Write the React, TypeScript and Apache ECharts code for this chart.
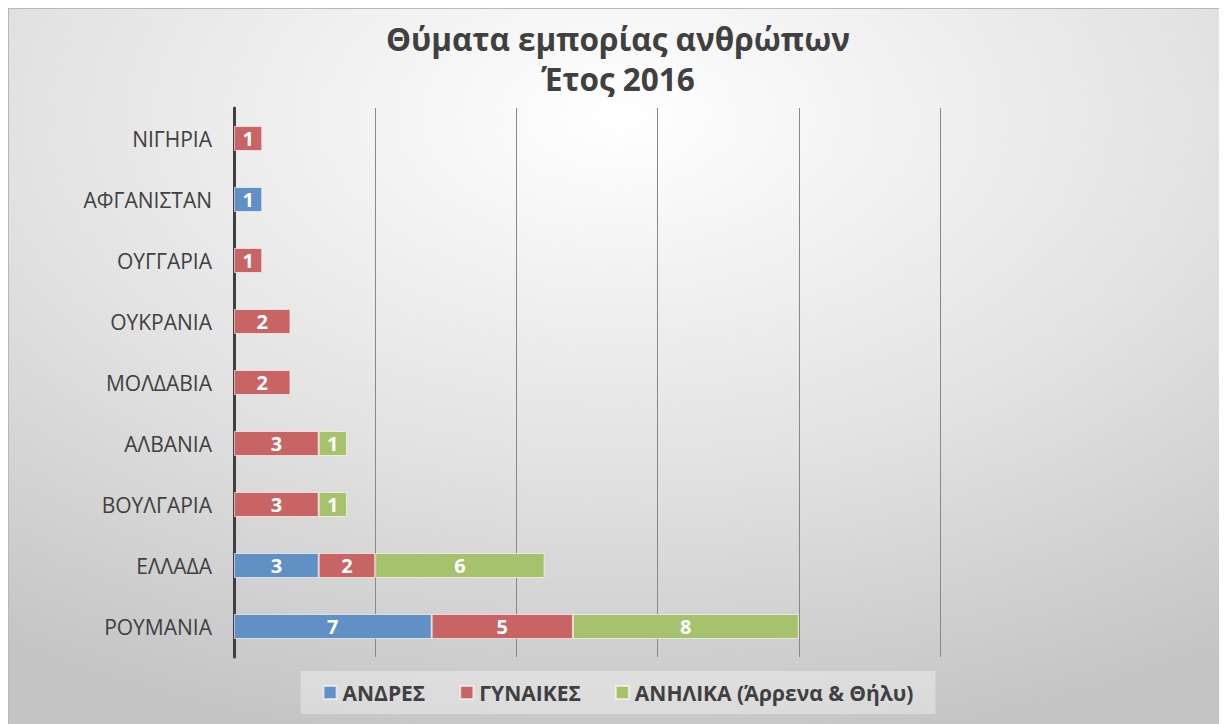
import React, { useEffect, useRef } from "react";
import * as echarts from "echarts";

const categories = ["ΡΟΥΜΑΝΙΑ", "ΕΛΛΑΔΑ", "ΒΟΥΛΓΑΡΙΑ", "ΑΛΒΑΝΙΑ", "ΜΟΛΔΑΒΙΑ", "ΟΥΚΡΑΝΙΑ", "ΟΥΓΓΑΡΙΑ", "ΑΦΓΑΝΙΣΤΑΝ", "ΝΙΓΗΡΙΑ"];
const men = [7, 3, null, null, null, null, null, 1, null];
const women = [5, 2, 3, 3, 2, 2, 1, null, 1];
const minors = [8, 6, 1, 1, null, null, null, null, null];
const seriesNames = ["ΑΝΔΡΕΣ", "ΓΥΝΑΙΚΕΣ", "ΑΝΗΛΙΚΑ (Άρρενα & Θήλυ)"];
const colors = ["#6190c5", "#c96464", "#a6c26c"];
const titleText = "Θύματα εμπορίας ανθρώπων\nΈτος 2016";

const FONT = "'Open Sans', 'Noto Sans', sans-serif";

export default function App() {
  const ref = useRef<HTMLDivElement>(null);
  useEffect(() => {
    if (!ref.current) return;
    const chart = echarts.init(ref.current, undefined, { renderer: "svg" });
    const data = [men, women, minors];
    chart.setOption({
      animation: false,
      backgroundColor: {
        type: "radial",
        x: 0.5,
        y: 0.15,
        r: 0.9,
        colorStops: [
          { offset: 0, color: "#ffffff" },
          { offset: 0.55, color: "#e2e2e2" },
          { offset: 1, color: "#c4c4c4" },
        ],
      },
      title: {
        text: titleText,
        left: "center",
        top: 4,
        textStyle: {
          fontFamily: FONT,
          fontSize: 31.5,
          fontWeight: "bold",
          color: "#404040",
          lineHeight: 40,
        },
      },
      legend: {
        bottom: 10,
        left: "center",
        itemWidth: 13,
        itemHeight: 13,
        itemGap: 34,
        padding: [11, 22, 11, 22],
        backgroundColor: "rgba(255,255,255,0.35)",
        icon: "rect",
        textStyle: { fontFamily: FONT, fontSize: 21, fontWeight: "bold", color: "#404040", padding: [0, 0, 0, 1] },
        data: seriesNames,
      },
      grid: { left: 225, right: 287, top: 99, bottom: 67, containLabel: false },
      xAxis: {
        type: "value",
        min: 0,
        max: 25,
        interval: 5,
        axisLabel: { show: false },
        axisLine: { show: false },
        axisTick: { show: false },
        splitLine: { show: true, lineStyle: { color: "#888888", width: 1 } },
      },
      yAxis: {
        type: "category",
        data: categories,
        axisLine: { show: true, lineStyle: { color: "#404040", width: 3 } },
        axisTick: { show: false },
        axisLabel: { fontFamily: FONT, fontSize: 21, color: "#404040", margin: 22 },
      },
      series: seriesNames.map((name, i) => ({
        name,
        type: "bar",
        stack: "total",
        barWidth: 25,
        data: data[i],
        itemStyle: { color: colors[i], borderColor: "rgba(255,255,255,0.6)", borderWidth: 1 },
        label: {
          show: true,
          position: "inside",
          color: "#ffffff",
          fontFamily: FONT,
          fontSize: 20,
          fontWeight: "bold",
        },
      })),
    });
    return () => chart.dispose();
  }, []);
  return (
    <div
      ref={ref}
      style={{ width: 1219, height: 716, borderTop: "1px solid #b8b8b8", borderLeft: "1px solid #b8b8b8", boxSizing: "border-box" }}
    />
  );
}
